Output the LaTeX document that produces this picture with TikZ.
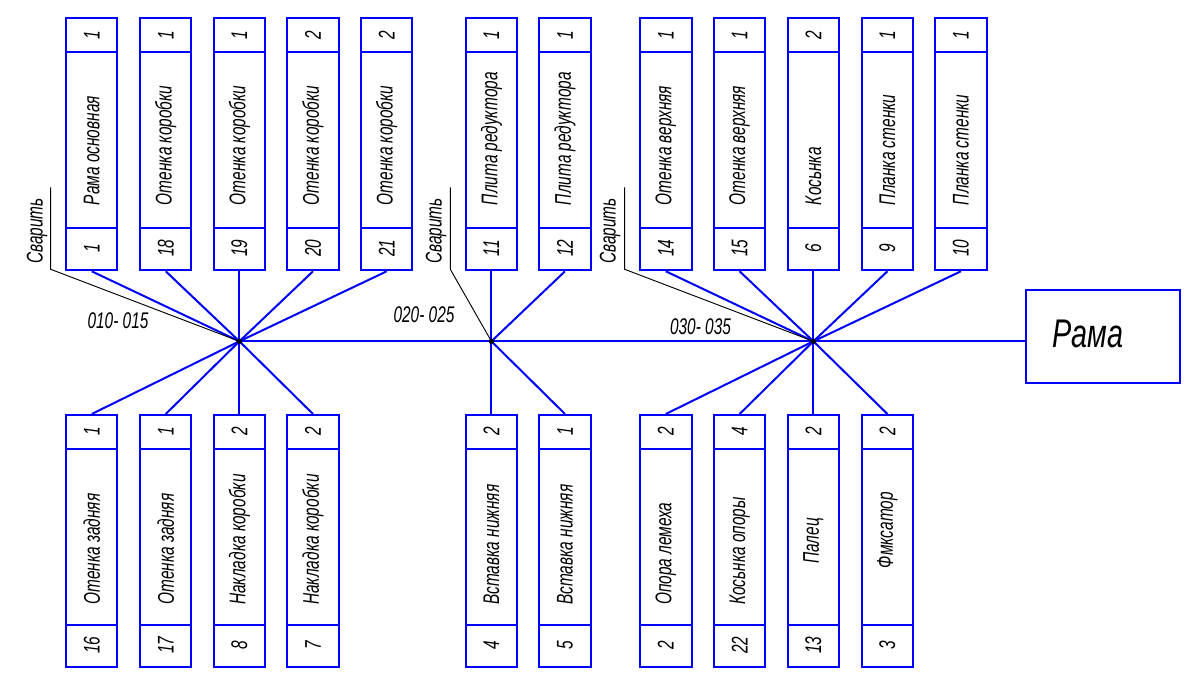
\documentclass[tikz,border=0pt]{standalone}
\usepackage{fontspec}
\setmainfont{Liberation Sans}
\newfontfamily\gost[FakeStretch=0.68]{Liberation Sans}
\newfontfamily\gostbig[FakeStretch=0.72]{Liberation Sans}
\tikzset{
  outl/.style={draw=blue, line width=1.5pt},
  link/.style={blue, line width=1.5pt},
  leader/.style={black, line width=0.7pt},
  txt/.style={font=\gost\fontsize{17}{17}\selectfont\itshape, inner sep=0pt, text=black},
  hub/.style={circle, fill=black, inner sep=0pt, minimum size=4pt},
}
\newcommand{\pbox}[8]{%
  \node[outl, minimum width=38.6pt, minimum height=189pt, inner sep=0pt, anchor=north, fill=white] (#1) at (#2,#3) {};
  \draw[outl] ({#2-25.75},{#3+35}) -- ({#2+25.75},{#3+35});
  \draw[outl] ({#2-25.75},{#3+210.7}) -- ({#2+25.75},{#3+210.7});
  \node[txt, rotate=90] (#1q) at (#2,{#3+17.5}) {#4};
  \node[txt, rotate=90] (#1n) at (#2,{#3+231}) {#5};
  \node[txt, rotate=90, anchor=#6] (#1l) at (#2,{#3+#7}) {#8};
}
\begin{document}
\begin{tikzpicture}[x=0.75pt, y=-0.75pt]
\useasboundingbox[fill=white] (0,0) rectangle (1192,675);

% hubs
\coordinate (h1) at (239.4,341.3);
\coordinate (h2) at (491.4,341.3);
\coordinate (h3) at (813.4,341.3);

% top row
\pbox{t1}{91.75}{17.3}{1}{1}{west}{188}{Рама основная}
\pbox{t18}{165.75}{17.3}{1}{18}{west}{188}{Отенка коробки}
\pbox{t19}{239.4}{17.3}{1}{19}{west}{188}{Отенка коробки}
\pbox{t20}{313}{17.3}{2}{20}{west}{188}{Отенка коробки}
\pbox{t21}{386.7}{17.3}{2}{21}{west}{188}{Отенка коробки}
\pbox{t11}{491.4}{17.3}{1}{11}{west}{188}{Плита редуктора}
\pbox{t12}{565}{17.3}{1}{12}{west}{188}{Плита редуктора}
\pbox{t14}{665.8}{17.3}{1}{14}{west}{188}{Отенка верхняя}
\pbox{t15}{739.6}{17.3}{1}{15}{west}{188}{Отенка верхняя}
\pbox{t6}{813.4}{17.3}{2}{6}{west}{188}{Косьнка}
\pbox{t9}{887.4}{17.3}{1}{9}{west}{188}{Планка стенки}
\pbox{t10}{960.9}{17.3}{1}{10}{west}{188}{Планка стенки}

% bottom row
\pbox{b16}{91.75}{414}{1}{16}{west}{191}{Отенка задняя}
\pbox{b17}{165.75}{414}{1}{17}{west}{191}{Отенка задняя}
\pbox{b8}{239.4}{414}{2}{8}{west}{191}{Накладка коробки}
\pbox{b7}{313}{414}{2}{7}{west}{191}{Накладка коробки}
\pbox{b4}{491.4}{414}{2}{4}{west}{191}{Вставка нижняя}
\pbox{b5}{565}{414}{1}{5}{west}{191}{Вставка нижняя}
\pbox{b2}{665.8}{414}{2}{2}{west}{191}{Опора лемеха}
\pbox{b22}{739.6}{414}{4}{22}{west}{191}{Косьнка опоры}
\pbox{b13}{813.4}{414}{2}{13}{center}{127}{Палец}
\pbox{b3}{887.4}{414}{2}{3}{center}{116}{Фмксатор}

% final product
\node[outl, minimum width=115.5pt, minimum height=70pt, inner sep=0pt] (rama) at (1103,336.7) {};
\node[font=\gostbig\fontsize{30}{30}\selectfont\itshape, inner sep=0pt] (ramal) at (1088,334) {Рама};

% connectors
\foreach \b in {t1,t18,t19,t20,t21} \draw[link] (\b.south) -- (h1);
\foreach \b in {b16,b17,b8,b7} \draw[link] (\b.north) -- (h1);
\foreach \b in {t11,t12} \draw[link] (\b.south) -- (h2);
\foreach \b in {b4,b5} \draw[link] (\b.north) -- (h2);
\foreach \b in {t14,t15,t6,t9,t10} \draw[link] (\b.south) -- (h3);
\foreach \b in {b2,b22,b13,b3} \draw[link] (\b.north) -- (h3);
\draw[link] (h1) -- (h2) -- (h3) -- (h3 -| rama.west);

% weld leaders
\coordinate (s1a) at (50.7,187.3);  \coordinate (s1b) at (50.7,269.3);
\coordinate (s2a) at (450.3,187.3); \coordinate (s2b) at (450.3,269.3);
\coordinate (s3a) at (624.7,187.3); \coordinate (s3b) at (624.7,269.3);
\draw[leader] (s1a) -- (s1b) -- (h1);
\draw[leader] (s2a) -- (s2b) -- (h2);
\draw[leader] (s3a) -- (s3b) -- (h3);
\node[txt, rotate=90] (w1) at (37,231) {Сварить};
\node[txt, rotate=90] (w2) at (436,231) {Сварить};
\node[txt, rotate=90] (w3) at (610,231) {Сварить};

% operation labels
\node[txt] (op1) at (118,321) {010- 015};
\node[txt] (op2) at (424,314.5) {020- 025};
\node[txt] (op3) at (700.5,326.5) {030- 035};

% hub dots
\node[hub] (d1) at (h1) {};
\node[hub] (d2) at (h2) {};
\node[hub] (d3) at (h3) {};
\end{tikzpicture}
\end{document}
